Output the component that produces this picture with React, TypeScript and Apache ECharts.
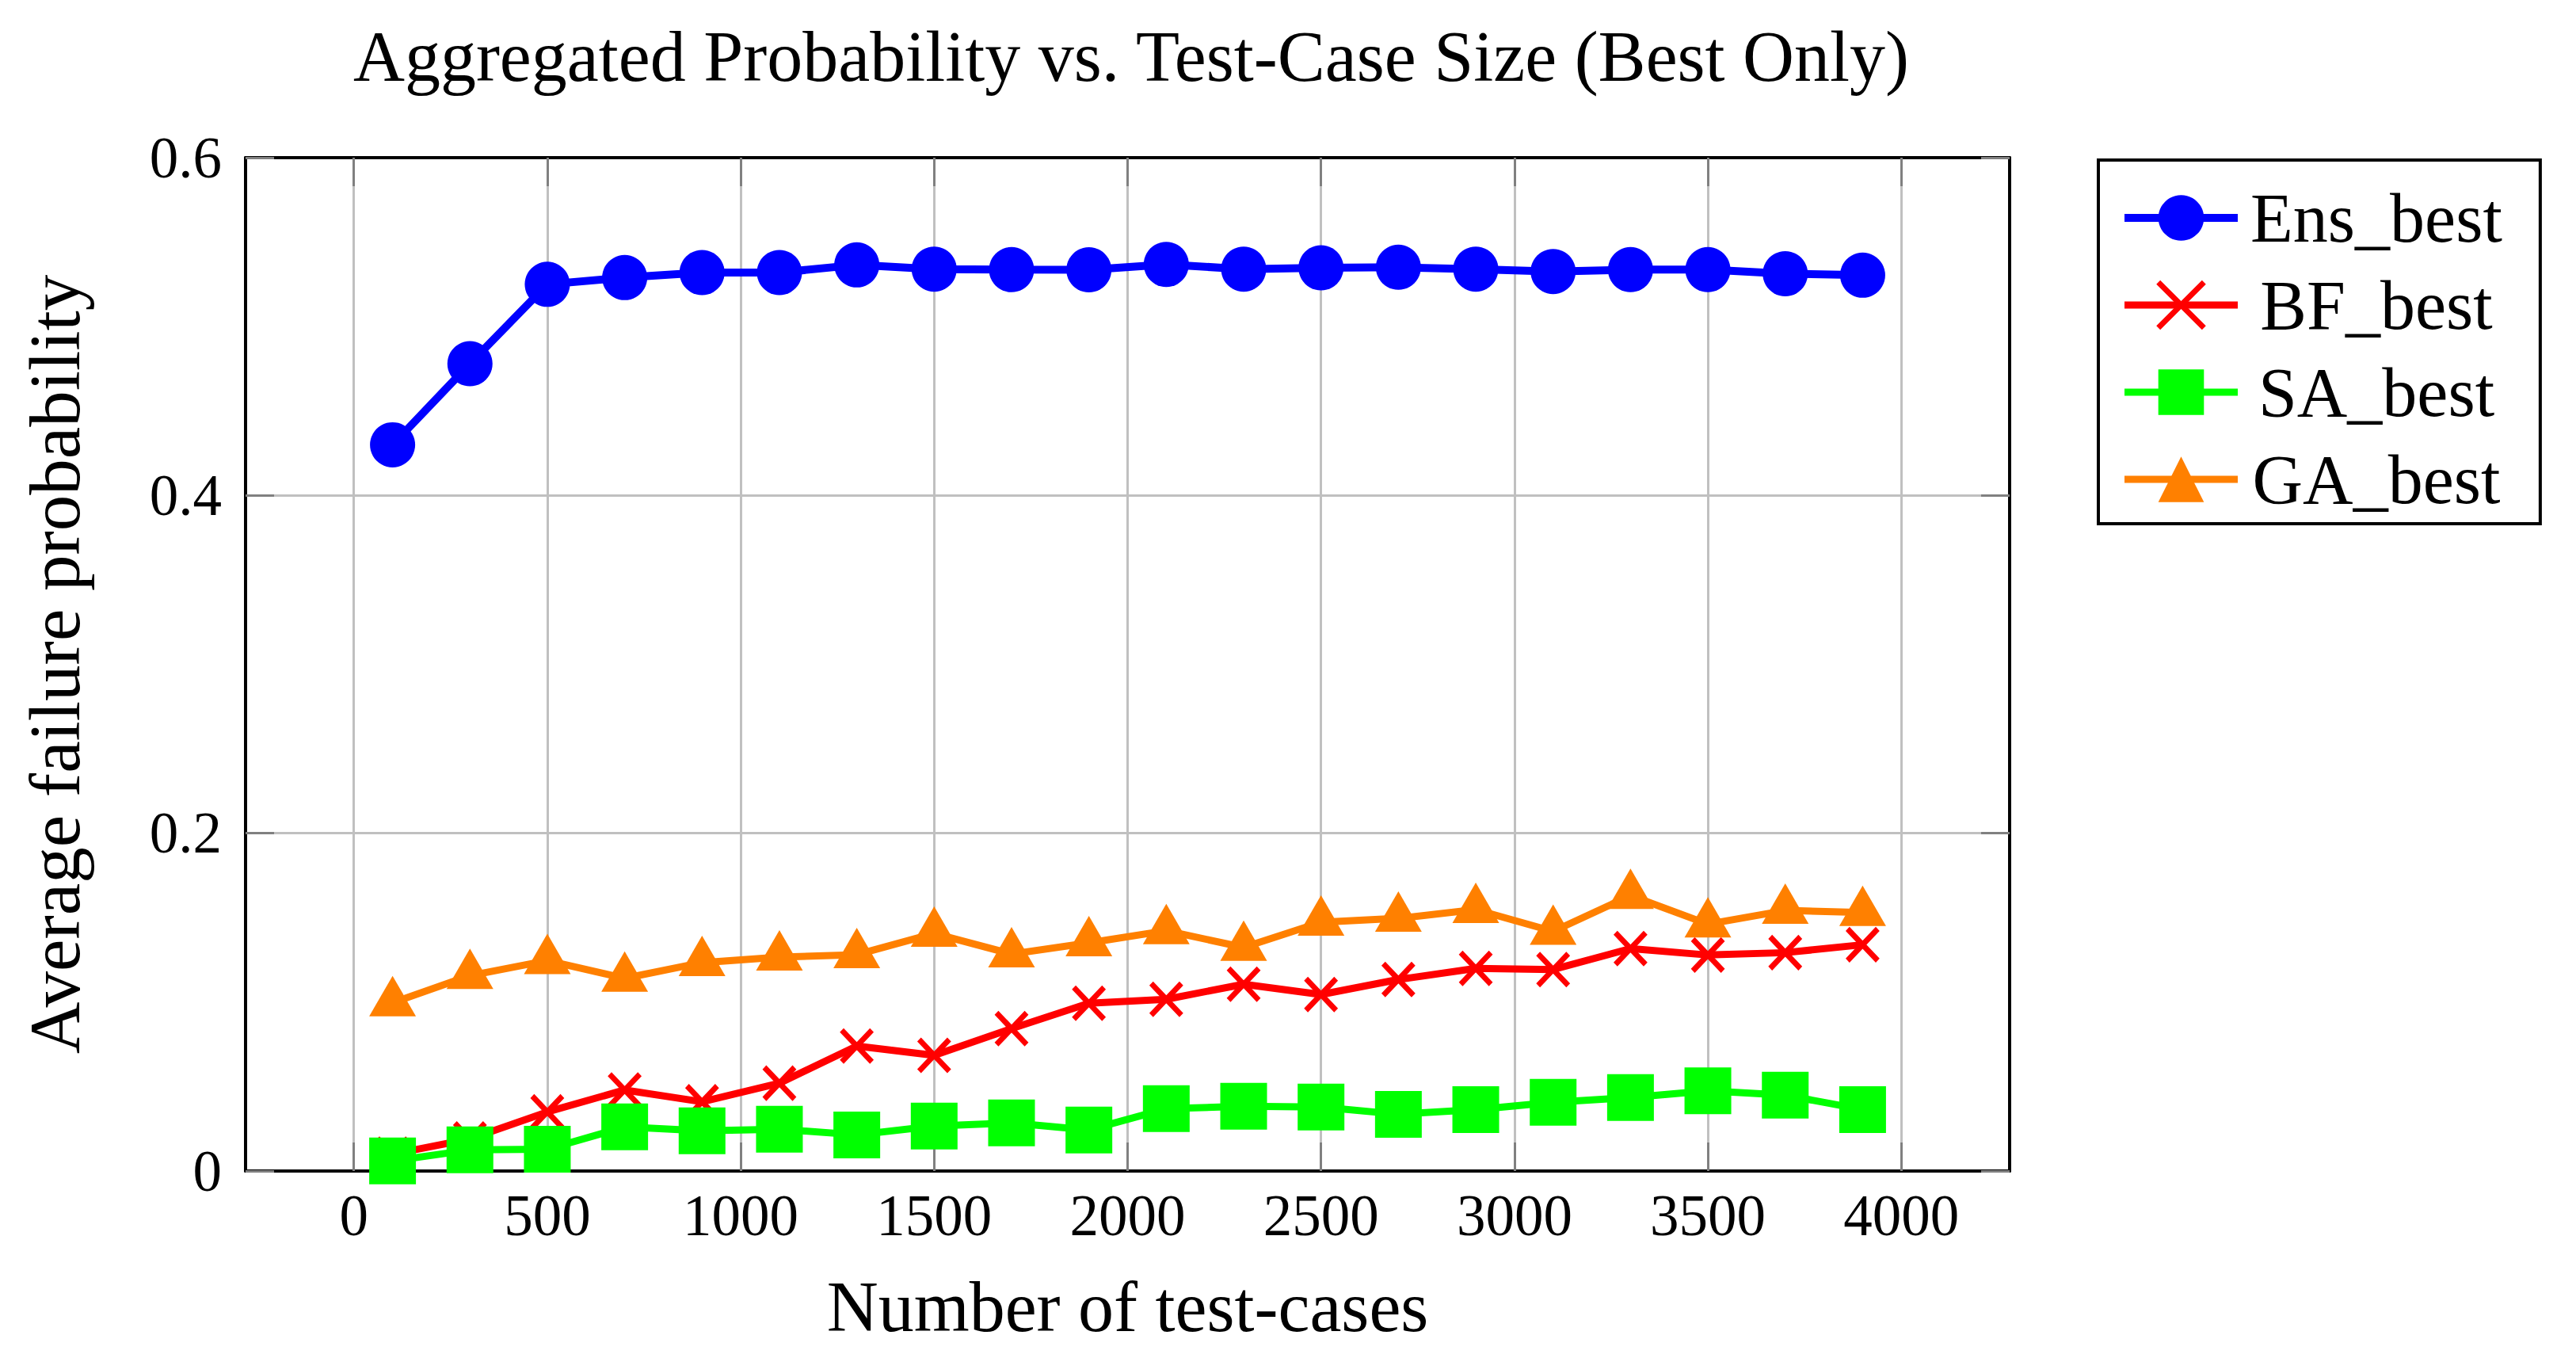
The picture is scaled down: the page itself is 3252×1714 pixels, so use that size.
import React, { useEffect, useRef } from "react";
import * as echarts from "echarts";

const testCases = [100, 300, 500, 700, 900, 1100, 1300, 1500, 1700, 1900, 2100, 2300, 2500, 2700, 2900, 3100, 3300, 3500, 3700, 3900];
const ensBest = [0.430, 0.478, 0.525, 0.529, 0.532, 0.532, 0.5365, 0.534, 0.5337, 0.5336, 0.5368, 0.534, 0.5348, 0.5351, 0.534, 0.5326, 0.5337, 0.5337, 0.5313, 0.5304];
const bfBest = [0.010, 0.019, 0.035, 0.048, 0.041, 0.052, 0.074, 0.0685, 0.0843, 0.0993, 0.1017, 0.1106, 0.1045, 0.1134, 0.120, 0.1193, 0.1317, 0.1279, 0.1293, 0.134];
const saBest = [0.006, 0.0125, 0.0129, 0.0261, 0.0238, 0.0248, 0.0214, 0.0266, 0.0285, 0.0243, 0.0369, 0.0383, 0.0379, 0.0336, 0.0364, 0.0407, 0.0435, 0.0475, 0.0449, 0.0364];
const gaBest = [0.0996, 0.1157, 0.1246, 0.1141, 0.1234, 0.1267, 0.1281, 0.1407, 0.1285, 0.1351, 0.1423, 0.1324, 0.1473, 0.1496, 0.1548, 0.1419, 0.1631, 0.1462, 0.1543, 0.1531];
const xTicks = [0, 500, 1000, 1500, 2000, 2500, 3000, 3500, 4000];
const seriesNames = ["Ens_best", "BF_best", "SA_best", "GA_best"];
const titleText = "Aggregated Probability vs. Test-Case Size (Best Only)";
const xName = "Number of test-cases";
const yName = "Average failure probability";

const FONT = "Liberation Serif";

function pairs(ys: number[]) {
  return testCases.map((x, i) => [x, ys[i]]);
}

export default function App() {
  const ref = useRef<HTMLDivElement>(null);
  useEffect(() => {
    if (!ref.current) return;
    const chart = echarts.init(ref.current, null, { renderer: "svg" });
    const tickStyle = { show: true, inside: true, length: 36, lineStyle: { color: "#808080", width: 3 } };
    const axisLine = { show: true, onZero: false, lineStyle: { color: "#000", width: 4 } };
    const xCommon = { type: "value", min: -280, max: 4280 };
    chart.setOption({
      animation: false,
      backgroundColor: "#fff",
      title: {
        text: titleText,
        left: 1423,
        textAlign: "center",
        top: 21,
        textStyle: { fontFamily: FONT, fontSize: 90, fontWeight: "normal", color: "#000" },
      },
      legend: {
        orient: "vertical",
        left: 2649,
        top: 202,
        itemWidth: 143,
        itemHeight: 72,
        itemGap: 22,
        padding: [29, 48, 12, 28],
        borderColor: "#000",
        borderWidth: 4,
        selectedMode: false,
        data: [
          { name: seriesNames[0], lineStyle: { width: 10 } },
          { name: seriesNames[1], lineStyle: { width: 9 }, itemStyle: { borderWidth: 7, borderColor: "#ff0000" } },
          { name: seriesNames[2], lineStyle: { width: 9 } },
          { name: seriesNames[3], lineStyle: { width: 9 } },
        ],
        formatter: (n: string) => `{t|${n}}`,
        textStyle: {
          fontFamily: FONT,
          fontSize: 88,
          color: "#000",
          rich: { t: { width: 340, align: "center", fontFamily: FONT, fontSize: 88, color: "#000" } },
        },
      },
      grid: { left: 310, top: 199, right: 715, bottom: 236, containLabel: false },
      xAxis: [
        {
          ...xCommon,
          position: "bottom",
          name: xName,
          nameLocation: "middle",
          nameGap: 126,
          nameTextStyle: { fontFamily: FONT, fontSize: 90, color: "#000" },
          axisLine,
          axisTick: { ...tickStyle, customValues: xTicks },
          axisLabel: {
            customValues: xTicks,
            formatter: (v: number) => String(v),
            margin: 20,
            fontFamily: FONT,
            fontSize: 73,
            color: "#000",
          },
          splitLine: { show: true, lineStyle: { color: "#c0c0c0", width: 3 } },
        },
        {
          ...xCommon,
          position: "top",
          axisLine,
          axisTick: { ...tickStyle, customValues: xTicks },
          axisLabel: { show: false },
          splitLine: { show: false },
        },
      ],
      yAxis: [
        {
          type: "value",
          min: 0,
          max: 0.6,
          interval: 0.2,
          position: "left",
          name: yName,
          nameLocation: "middle",
          nameGap: 195,
          nameTextStyle: { fontFamily: FONT, fontSize: 91, color: "#000" },
          axisLine,
          axisTick: tickStyle,
          axisLabel: { margin: 30, fontFamily: FONT, fontSize: 73, color: "#000" },
          splitLine: { show: true, lineStyle: { color: "#c0c0c0", width: 3 } },
        },
        {
          type: "value",
          min: 0,
          max: 0.6,
          interval: 0.2,
          position: "right",
          axisLine,
          axisTick: tickStyle,
          axisLabel: { show: false },
          splitLine: { show: false },
        },
      ],
      series: [
        {
          name: seriesNames[0],
          type: "line",
          data: pairs(ensBest),
          symbol: "circle",
          symbolSize: 57,
          color: "#0000ff",
          lineStyle: { color: "#0000ff", width: 10 },
          itemStyle: { color: "#0000ff" },
        },
        {
          name: seriesNames[1],
          type: "line",
          data: pairs(bfBest),
          symbol: "path://M0,0L100,100M100,0L0,100",
          symbolSize: [38, 40],
          color: "#ff0000",
          lineStyle: { color: "#ff0000", width: 9 },
          itemStyle: { color: "#ff0000", borderColor: "#ff0000", borderWidth: 7 },
        },
        {
          name: seriesNames[2],
          type: "line",
          data: pairs(saBest),
          symbol: "rect",
          symbolSize: 59,
          color: "#00ff00",
          lineStyle: { color: "#00ff00", width: 9 },
          itemStyle: { color: "#00ff00" },
        },
        {
          name: seriesNames[3],
          type: "line",
          data: pairs(gaBest),
          symbol: "triangle",
          symbolSize: [59, 51],
          symbolOffset: [0, -8.5],
          color: "#ff8000",
          lineStyle: { color: "#ff8000", width: 9 },
          itemStyle: { color: "#ff8000" },
        },
      ],
    });
    return () => chart.dispose();
  }, []);
  return <div ref={ref} style={{ position: "absolute", left: 0, top: 0, width: 3252, height: 1714 }} />;
}
